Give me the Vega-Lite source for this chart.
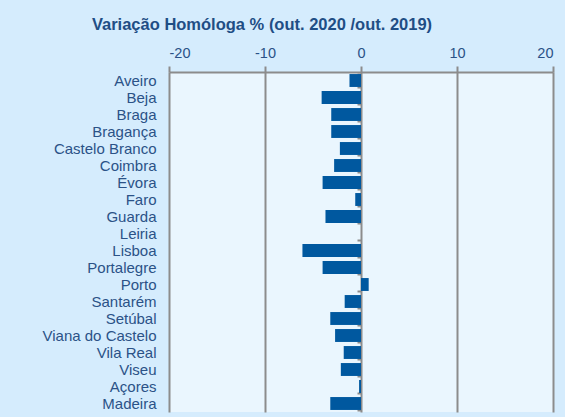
{
  "$schema": "https://vega.github.io/schema/vega-lite/v6.json",
  "width": 384,
  "height": 340,
  "autosize": "none",
  "padding": {"left": 169, "top": 72, "right": 12, "bottom": 5},
  "background": "#d5ecfd",
  "title": {
    "text": "Variação Homóloga % (out. 2020 /out. 2019)",
    "font": "Liberation Sans",
    "fontSize": 16.5,
    "fontWeight": "bold",
    "color": "#1f4e85",
    "anchor": "middle",
    "frame": "group",
    "dx": -99,
    "offset": 12
  },
  "config": {
    "view": {"fill": "#eaf6fe", "stroke": null},
    "font": "Liberation Sans"
  },
  "data": {
    "values": [
      {"distrito": "Aveiro", "variacao": -1.2},
      {"distrito": "Beja", "variacao": -4.1},
      {"distrito": "Braga", "variacao": -3.1},
      {"distrito": "Bragança", "variacao": -3.1},
      {"distrito": "Castelo Branco", "variacao": -2.2},
      {"distrito": "Coimbra", "variacao": -2.8},
      {"distrito": "Évora", "variacao": -4.0},
      {"distrito": "Faro", "variacao": -0.6},
      {"distrito": "Guarda", "variacao": -3.7},
      {"distrito": "Leiria", "variacao": 0.0},
      {"distrito": "Lisboa", "variacao": -6.1},
      {"distrito": "Portalegre", "variacao": -4.0},
      {"distrito": "Porto", "variacao": 0.8},
      {"distrito": "Santarém", "variacao": -1.7},
      {"distrito": "Setúbal", "variacao": -3.2},
      {"distrito": "Viana do Castelo", "variacao": -2.7},
      {"distrito": "Vila Real", "variacao": -1.8},
      {"distrito": "Viseu", "variacao": -2.1},
      {"distrito": "Açores", "variacao": -0.2},
      {"distrito": "Madeira", "variacao": -3.2}
    ]
  },
  "layer": [
    {
      "mark": {"type": "bar", "color": "#00589f"},
      "encoding": {
        "y": {
          "field": "distrito",
          "type": "nominal",
          "sort": null,
          "scale": {"paddingInner": 0.24, "paddingOuter": 0.12},
          "axis": {
            "title": null,
            "ticks": false,
            "domain": false,
            "grid": false,
            "labelPadding": 13,
            "labelFontSize": 15,
            "labelColor": "#2b5287"
          }
        },
        "x": {
          "field": "variacao",
          "type": "quantitative",
          "scale": {"domain": [-20, 20], "nice": false},
          "axis": {
            "orient": "top",
            "title": null,
            "values": [-20, -10, 0, 10, 20],
            "labelExpr": "'' + datum.value",
            "grid": true,
            "gridColor": "#8c8c8c",
            "gridWidth": 2,
            "gridOpacity": 1,
            "domainColor": "#8c8c8c",
            "domainWidth": 2,
            "tickColor": "#8c8c8c",
            "tickWidth": 2,
            "tickSize": 6,
            "labelPadding": 6,
            "labelFontSize": 14.5,
            "labelColor": "#2b5287"
          }
        }
      }
    },
    {
      "mark": {"type": "bar", "opacity": 0},
      "encoding": {
        "y": {
          "field": "distrito",
          "type": "nominal",
          "sort": null,
          "scale": {"paddingInner": 0.24, "paddingOuter": 0.12},
          "axis": {
            "orient": "left",
            "title": null,
            "labels": false,
            "domain": false,
            "grid": false,
            "ticks": true,
            "tickBand": "extent",
            "tickColor": "#8c8c8c",
            "tickWidth": 2,
            "tickSize": 4,
            "offset": -192
          }
        },
        "x": {"field": "variacao", "type": "quantitative"}
      }
    }
  ],
  "resolve": {"axis": {"y": "independent"}}
}
